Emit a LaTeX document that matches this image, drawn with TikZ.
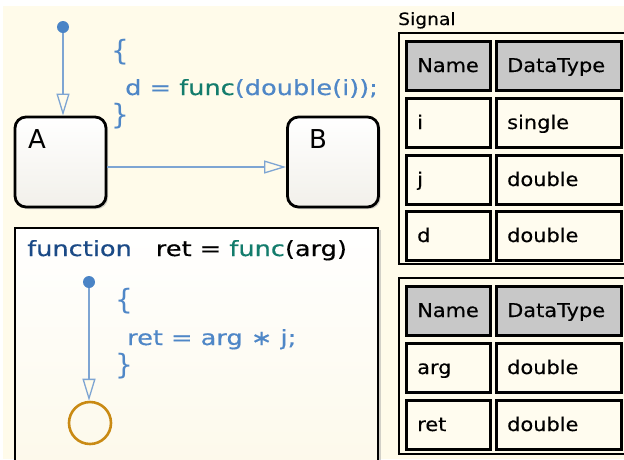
\documentclass[tikz,border=0pt]{standalone}
\usepackage{fontspec}
\setmainfont{DejaVu Sans}
\newfontfamily\codefont[FakeStretch=1.22,FakeBold=0.4]{DejaVu Sans}
\newfontfamily\bracefont{DejaVu Sans}
\newfontfamily\tabfont[FakeStretch=1.1,FakeBold=0.3]{DejaVu Sans}
\usetikzlibrary{arrows.meta,shadows}
\definecolor{cream}{HTML}{FFFBEA}
\definecolor{cellcream}{HTML}{FFFCEF}
\definecolor{hdrgray}{HTML}{C8C8C8}
\definecolor{codeblue}{HTML}{4F87C7}
\definecolor{funcc}{HTML}{137C6C}
\definecolor{fnavy}{HTML}{1B4A86}
\definecolor{tline}{HTML}{7EA5D3}
\definecolor{dotblue}{HTML}{4A84C6}
\definecolor{jorange}{HTML}{C98A14}
\definecolor{statebot}{HTML}{F2F0EA}
\begin{document}
\begin{tikzpicture}[x=1pt,y=-1pt,
  statebox/.style={draw=black, line width=2.8pt, rounded corners=11pt,
    minimum width=91pt, minimum height=90pt, inner sep=0pt,
    top color=white, bottom color=statebot,
    drop shadow={shadow xshift=2pt, shadow yshift=-2pt, fill=black!35, opacity=.5}},
  fbox/.style={draw=black, line width=2.8pt, minimum width=363pt, minimum height=244pt,
    inner sep=0pt, top color=white, bottom color=cream!80!statebot,
    drop shadow={shadow xshift=3pt, shadow yshift=-2pt, fill=black!35, opacity=.5}},
  trans/.style={draw=tline, line width=1.3pt, -{Triangle[open,length=22pt,width=13pt,fill=cream]}},
  initdot/.style={circle, fill=dotblue, inner sep=0pt, minimum size=12pt},
  code/.style={font=\codefont\fontsize{21}{21}\selectfont, text=codeblue, inner sep=0pt, anchor=base west},
  brace/.style={font=\bracefont\fontsize{28}{28}\selectfont, text=codeblue, inner sep=0pt, anchor=base west},
  lbl/.style={font=\fontsize{26}{26}\selectfont, inner sep=0pt, anchor=base west},
  frame/.style={draw=black, line width=2.2pt, fill=cream, inner sep=0pt, anchor=north west},
  cell/.style={draw=black, line width=3pt, fill=cellcream, inner sep=0pt, anchor=north west, minimum height=49pt},
  hcell/.style={cell, fill=hdrgray},
  ctext/.style={font=\tabfont\fontsize{19}{19}\selectfont, inner sep=0pt, anchor=base west}
]
\useasboundingbox (0,0) rectangle (624,459);
\fill[white] (0,0) rectangle (624,459);
\fill[cream] (3,6) rectangle (624,459);

% states
\node[statebox] (A) at (60.5,162) {};
\node[lbl] (Alab) at (28,148) {A};
\node[statebox] (B) at (333,162) {};
\node[lbl] (Blab) at (309,148) {B};
\node[initdot] (i1) at (63,27) {};
\draw[trans] (i1) -- (i1 |- A.north);
\draw[trans] ([yshift=-5pt]A.east) -- ([yshift=-5pt]B.west);

\node[brace] (c1) at (111,60) {\{};
\node[code] (c2) at (125,95) {d = \textcolor{funcc}{func}(double(i));};
\node[brace] (c3) at (111,124) {\}};

% function box
\node[fbox] (F) at (196.5,350) {};
\node[code, text=black] (ft) at (27,256) {\textcolor{fnavy}{function}\hspace*{24pt}ret = \textcolor{funcc}{func}(arg)};
\node[initdot] (i2) at (89,282) {};
\node[circle, draw=jorange, line width=2.6pt, minimum size=42pt, inner sep=0pt] (J) at (90,423) {};
\draw[trans] (i2) -- (i2 |- J.north);
\node[brace] (d1) at (115,309) {\{};
\node[code] (d2) at (127,345) {ret = arg ∗ j;};
\node[brace] (d3) at (115,374) {\}};

% Signal tables
\node[font=\tabfont\fontsize{17}{17}\selectfont, inner sep=0pt, anchor=base west] (sig) at (398,25) {Signal};
\node[frame, minimum width=230pt, minimum height=231pt] (T1) at (398,32) {};
\node[hcell, minimum width=84pt] (t1a) at (404.5,39.5) {};
\node[hcell, minimum width=125pt] (t1b) at (494.5,39.5) {};
\node[cell, minimum width=84pt] (t1c) at (404.5,96.5) {};
\node[cell, minimum width=125pt] (t1d) at (494.5,96.5) {};
\node[cell, minimum width=84pt] (t1e) at (404.5,153.5) {};
\node[cell, minimum width=125pt] (t1f) at (494.5,153.5) {};
\node[cell, minimum width=84pt] (t1g) at (404.5,209.5) {};
\node[cell, minimum width=125pt] (t1h) at (494.5,209.5) {};
\node[ctext] at (417,72) {Name};
\node[ctext] at (507,72) {DataType};
\node[ctext] at (417,129) {i};
\node[ctext] at (507,129) {single};
\node[ctext] at (417,186) {j};
\node[ctext] at (507,186) {double};
\node[ctext] at (417,242) {d};
\node[ctext] at (507,242) {double};

\node[frame, minimum width=230pt, minimum height=176pt] (T2) at (398,277) {};
\node[hcell, minimum width=84pt] (t2a) at (404.5,284.5) {};
\node[hcell, minimum width=125pt] (t2b) at (494.5,284.5) {};
\node[cell, minimum width=84pt] (t2c) at (404.5,341.5) {};
\node[cell, minimum width=125pt] (t2d) at (494.5,341.5) {};
\node[cell, minimum width=84pt] (t2e) at (404.5,398.5) {};
\node[cell, minimum width=125pt] (t2f) at (494.5,398.5) {};
\node[ctext] at (417,317) {Name};
\node[ctext] at (507,317) {DataType};
\node[ctext] at (417,374) {arg};
\node[ctext] at (507,374) {double};
\node[ctext] at (417,431) {ret};
\node[ctext] at (507,431) {double};
\end{tikzpicture}
\end{document}
